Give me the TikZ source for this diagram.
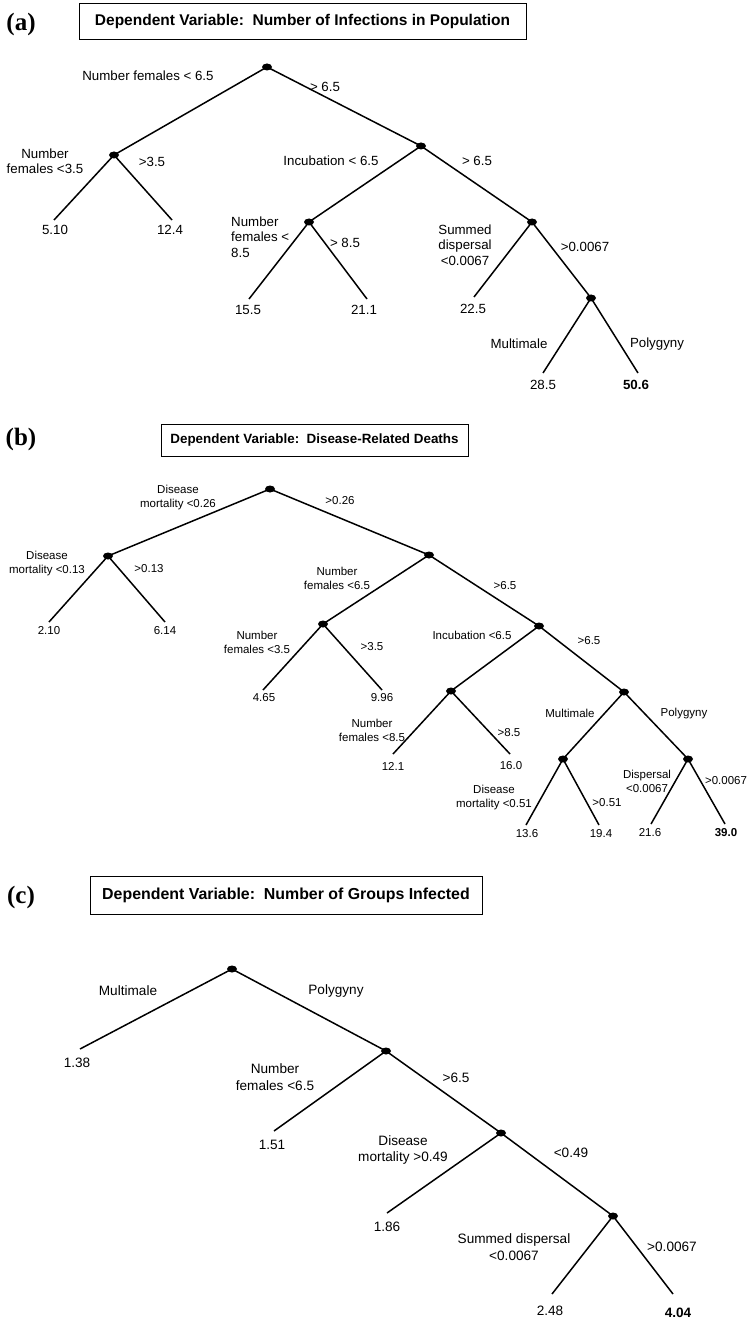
\documentclass[tikz,border=0pt]{standalone}
\usepackage{fontspec}
\setmainfont{Liberation Sans}
\newfontfamily\panelfont{Liberation Serif}
\usetikzlibrary{shapes.geometric}

\newcommand{\szA}{\fontsize{13.3}{15.5}\selectfont}
\newcommand{\szB}{\fontsize{11.5}{14}\selectfont}
\newcommand{\szC}{\fontsize{13.6}{16.5}\selectfont}

\tikzset{
    split/.style={ellipse, fill=black, inner sep=0pt, minimum width=10pt, minimum height=7pt},
    branch/.style={line width=1.5pt},
    cond/.style={align=center, inner sep=0pt},
    titlebox/.style={draw, line width=0.9pt, inner sep=0pt, font=\bfseries},
    panel/.style={font=\panelfont\bfseries\fontsize{25}{27}\selectfont, inner sep=0pt}
}

\begin{document}
\begin{tikzpicture}[x=1pt, y=-1pt]
    \useasboundingbox (0,0) rectangle (747,1321);

    % ---------------- (a) ----------------
    \node[panel] (pa) at (21,24) {(a)};
    \node[titlebox, minimum width=447pt, minimum height=36pt, font=\bfseries\fontsize{15.5}{18}\selectfont] (ta) at (302.5,21) {Dependent Variable:\ \ Number of Infections in Population};

    \begin{scope}[every node/.append style={font=\szA}]
    \node[split] (a0) at (267,67) {};
    \node[split] (a1) at (114,155) {};
    \node[split] (a2) at (421,146) {};
    \node[split] (a3) at (309,222) {};
    \node[split] (a4) at (532,222) {};
    \node[split] (a5) at (591,298) {};
    \coordinate (a1l) at (54,220);
    \coordinate (a1r) at (172,220);
    \coordinate (a3l) at (249,299);
    \coordinate (a3r) at (367,299);
    \coordinate (a4l) at (474,297);
    \coordinate (a5l) at (543,373);
    \coordinate (a5r) at (638,373);

    \draw[branch] (a1l) -- (a1.center) -- (a0.center) -- (a2.center) -- (a4.center) -- (a5.center) -- (a5r);
    \draw[branch] (a1.center) -- (a1r);
    \draw[branch] (a2.center) -- (a3.center) -- (a3l);
    \draw[branch] (a3.center) -- (a3r);
    \draw[branch] (a4.center) -- (a4l);
    \draw[branch] (a5.center) -- (a5l);

    % splits
    \node[cond] (la0l) at (148,76) {Number females < 6.5};
    \node[cond] (la0r) at (325,87) {> 6.5};
    \node[cond] (la1l) at (45,161) {Number\\females <3.5};
    \node[cond] (la1r) at (152,162) {>3.5};
    \node[cond] (la2l) at (331,161) {Incubation < 6.5};
    \node[cond] (la2r) at (477,161) {> 6.5};
    \node[cond, align=left, anchor=west] (la3l) at (231,237) {Number\\females <\\8.5};
    \node[cond] (la3r) at (345,243) {> 8.5};
    \node[cond] (la4l) at (465,245) {Summed\\dispersal\\<0.0067};
    \node[cond] (la4r) at (585,247) {>0.0067};
    \node[cond] (la5l) at (519,344) {Multimale};
    \node[cond] (la5r) at (657,344) {Polygyny};

    % leaves
    \node (va1) at (55,230) {5.10};
    \node (va2) at (170,230) {12.4};
    \node (va3) at (248,310) {15.5};
    \node (va4) at (364,310) {21.1};
    \node (va5) at (473,309) {22.5};
    \node (va6) at (543,385) {28.5};
    \node[font=\szA\bfseries] (va7) at (636,385) {50.6};
    \end{scope}

    % ---------------- (b) ----------------
    \node[panel] (pb) at (21,439) {(b)};
    \node[titlebox, minimum width=307pt, minimum height=32pt, font=\bfseries\fontsize{13.4}{16}\selectfont] (tb) at (314.5,440) {Dependent Variable:\ \ Disease-Related Deaths};

    \begin{scope}[every node/.append style={font=\szB}]
    \node[split] (b0) at (270,489) {};
    \node[split] (b1) at (108,556) {};
    \node[split] (b2) at (429,555) {};
    \node[split] (b3) at (323,624) {};
    \node[split] (b4) at (539,626) {};
    \node[split] (b5) at (451,691) {};
    \node[split] (b6) at (624,692) {};
    \node[split] (b7) at (563,759) {};
    \node[split] (b8) at (688,759) {};
    \coordinate (b1l) at (49,622);
    \coordinate (b1r) at (165,622);
    \coordinate (b3l) at (263,690);
    \coordinate (b3r) at (382,690);
    \coordinate (b5l) at (393,754);
    \coordinate (b5r) at (510,754);
    \coordinate (b7l) at (526,825);
    \coordinate (b7r) at (599,825);
    \coordinate (b8l) at (651,824);
    \coordinate (b8r) at (725,824);

    \draw[branch] (b1l) -- (b1.center) -- (b0.center) -- (b2.center) -- (b4.center) -- (b6.center) -- (b8.center) -- (b8r);
    \draw[branch] (b1.center) -- (b1r);
    \draw[branch] (b2.center) -- (b3.center) -- (b3l);
    \draw[branch] (b3.center) -- (b3r);
    \draw[branch] (b4.center) -- (b5.center) -- (b5l);
    \draw[branch] (b5.center) -- (b5r);
    \draw[branch] (b6.center) -- (b7.center) -- (b7l);
    \draw[branch] (b7.center) -- (b7r);
    \draw[branch] (b8.center) -- (b8l);

    % splits
    \node[cond] (lb0l) at (178,498) {Disease\\mortality <0.26};
    \node[cond] (lb0r) at (340,501) {>0.26};
    \node[cond] (lb1l) at (47,564) {Disease\\mortality <0.13};
    \node[cond] (lb1r) at (149,569) {>0.13};
    \node[cond] (lb2l) at (337,578) {Number\\females <6.5};
    \node[cond] (lb2r) at (505,586) {>6.5};
    \node[cond] (lb3l) at (257,642) {Number\\females <3.5};
    \node[cond] (lb3r) at (372,647) {>3.5};
    \node[cond] (lb4l) at (472,635) {Incubation <6.5};
    \node[cond] (lb4r) at (589,641) {>6.5};
    \node[cond] (lb5l) at (372,730) {Number\\females <8.5};
    \node[cond] (lb5r) at (509,733) {>8.5};
    \node[cond] (lb6l) at (570,713) {Multimale};
    \node[cond] (lb6r) at (684,714) {Polygyny};
    \node[cond] (lb7l) at (494,798) {Disease\\mortality <0.51};
    \node[cond] (lb7r) at (607,803) {>0.51};
    \node[cond] (lb8l) at (647,781) {Dispersal\\<0.0067};
    \node[cond] (lb8r) at (726,781) {>0.0067};

    % leaves
    \node (vb1) at (49,631) {2.10};
    \node (vb2) at (165,631) {6.14};
    \node (vb3) at (264,698) {4.65};
    \node (vb4) at (382,698) {9.96};
    \node (vb5) at (393,766) {12.1};
    \node (vb6) at (511,766) {16.0};
    \node (vb7) at (527,834) {13.6};
    \node (vb8) at (601,834) {19.4};
    \node (vb9) at (650,833) {21.6};
    \node[font=\szB\bfseries] (vb10) at (726,833) {39.0};
    \end{scope}

    % ---------------- (c) ----------------
    \node[panel] (pc) at (21,897) {(c)};
    \node[titlebox, minimum width=392pt, minimum height=38pt, font=\bfseries\fontsize{15.9}{18}\selectfont] (tc) at (286,895) {Dependent Variable:\ \ Number of Groups Infected};

    \begin{scope}[every node/.append style={font=\szC}]
    \node[split] (c0) at (232,969) {};
    \node[split] (c1) at (386,1051) {};
    \node[split] (c2) at (501,1133) {};
    \node[split] (c3) at (613,1216) {};
    \coordinate (c0l) at (80,1049);
    \coordinate (c1l) at (274,1131);
    \coordinate (c2l) at (387,1213);
    \coordinate (c3l) at (552,1294);
    \coordinate (c3r) at (673,1294);

    \draw[branch] (c0l) -- (c0.center) -- (c1.center) -- (c2.center) -- (c3.center) -- (c3r);
    \draw[branch] (c1.center) -- (c1l);
    \draw[branch] (c2.center) -- (c2l);
    \draw[branch] (c3.center) -- (c3l);

    % splits
    \node[cond] (lc0l) at (128,991) {Multimale};
    \node[cond] (lc0r) at (336,991) {Polygyny};
    \node[cond] (lc1l) at (275,1077) {Number\\females <6.5};
    \node[cond] (lc1r) at (456,1078) {>6.5};
    \node[cond] (lc2l) at (403,1150) {Disease\\mortality >0.49};
    \node[cond] (lc2r) at (571,1153) {<0.49};
    \node[cond] (lc3l) at (514,1247) {Summed dispersal\\<0.0067};
    \node[cond] (lc3r) at (672,1247) {>0.0067};

    % leaves
    \node (vc1) at (77,1063) {1.38};
    \node (vc2) at (272,1145) {1.51};
    \node (vc3) at (387,1227) {1.86};
    \node (vc4) at (550,1311) {2.48};
    \node[font=\szC\bfseries] (vc5) at (678,1313) {4.04};
    \end{scope}
\end{tikzpicture}
\end{document}
